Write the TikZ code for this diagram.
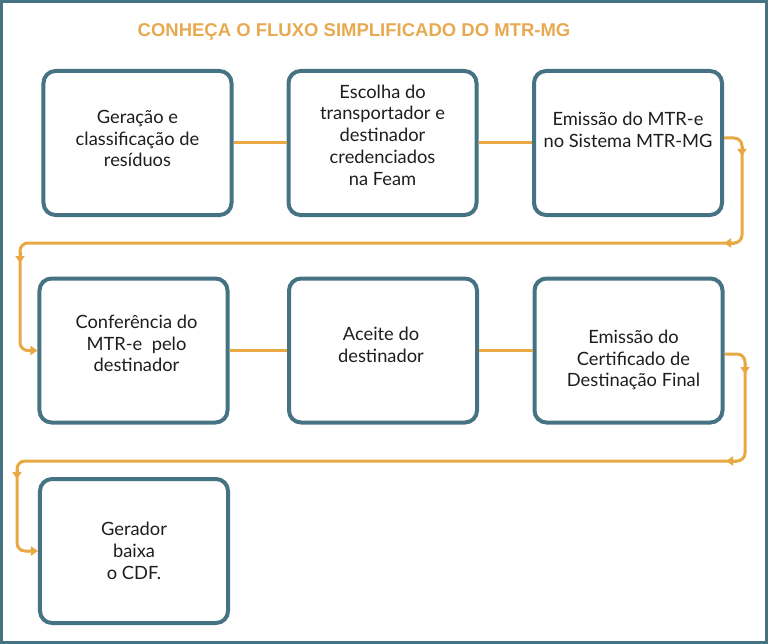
\documentclass[tikz,border=0pt]{standalone}
\usepackage{fontspec}
\setmainfont{Lato}
\newfontfamily\titlefont{Liberation Sans}
\usetikzlibrary{arrows.meta}
\definecolor{boxblue}{RGB}{70,115,132}
\definecolor{flow}{RGB}{232,168,66}
\definecolor{titleor}{RGB}{232,170,80}
\definecolor{txt}{RGB}{30,30,30}
\begin{document}
\begin{tikzpicture}[x=1bp,y=-1bp,
  stepbox/.style={draw=boxblue, line width=4bp, rounded corners=12bp, minimum width=188bp, minimum height=144bp, inner sep=0pt, fill=white},
  steptext/.style={align=center, text=txt, font=\fontsize{18.3bp}{21.8bp}\selectfont, inner sep=0pt},
  link/.style={draw=flow, line width=3bp},
  flowloop/.style={draw=flow, line width=3bp, rounded corners=8bp},
  headtip/.style={draw=flow, line width=3bp, -{Triangle[width=9bp,length=7bp]}}
]
\useasboundingbox (0,0) rectangle (768,644);
\draw[boxblue, line width=3bp] (1.5,1.5) rectangle (766.5,642.5);

\node[font=\titlefont\bfseries\fontsize{18.5bp}{22bp}\selectfont, text=titleor, anchor=base, inner sep=0pt] (title) at (354,37) {CONHEÇA O FLUXO SIMPLIFICADO DO MTR-MG};

\node[stepbox] (b1) at (137.5,143) {};
\node[stepbox] (b2) at (382.5,143) {};
\node[stepbox] (b3) at (628,143) {};
\node[stepbox] (b4) at (133.5,350.5) {};
\node[stepbox] (b5) at (383,350.5) {};
\node[stepbox] (b6) at (628.5,350.5) {};
\node[stepbox] (b7) at (134,551) {};

\node[steptext] (t1) at ([yshift=4.5bp]b1.center) {Geração e\\classificação de\\resíduos};
\node[steptext] (t2) at ([yshift=8bp]b2.center) {Escolha do\\transportador e\\destinador\\credenciados\\na Feam};
\node[steptext] (t3) at ([yshift=13bp]b3.center) {Emissão do MTR-e\\no Sistema MTR-MG};
\node[steptext] (t4) at ([xshift=3bp,yshift=7bp]b4.center) {Conferência do\\MTR-e\ \ pelo\\destinador};
\node[steptext] (t5) at ([xshift=-2bp,yshift=6bp]b5.center) {Aceite do\\destinador};
\node[steptext] (t6) at ([xshift=5bp,yshift=-9.5bp]b6.center) {Emissão do\\Certificado de\\Destinação Final};
\node[steptext] (t7) at (b7.center) {Gerador\\baixa\\o CDF.};

\draw[link] (b1.east) -- (b2.west);
\draw[link] (b2.east) -- (b3.west);
\draw[link] (b4.east) -- (b5.west);
\draw[link] (b5.east) -- (b6.west);

\draw[flowloop, -{Triangle[width=9bp,length=7bp]}] ([yshift=5bp]b3.east) -| (742,243) -| (20,300) |- (b4.west);
\draw[headtip] (742,146) -- (742,156);
\draw[headtip] (735,243) -- (724,243);
\draw[headtip] (20,252) -- (20,263);

\draw[flowloop, -{Triangle[width=9bp,length=7bp]}] ([yshift=-3.5bp]b6.east) -| (745,461) -| (17,520) |- (b7.west);
\draw[headtip] (745,364) -- (745,374);
\draw[headtip] (737,461) -- (726,461);
\draw[headtip] (17,469) -- (17,479);
\end{tikzpicture}
\end{document}
